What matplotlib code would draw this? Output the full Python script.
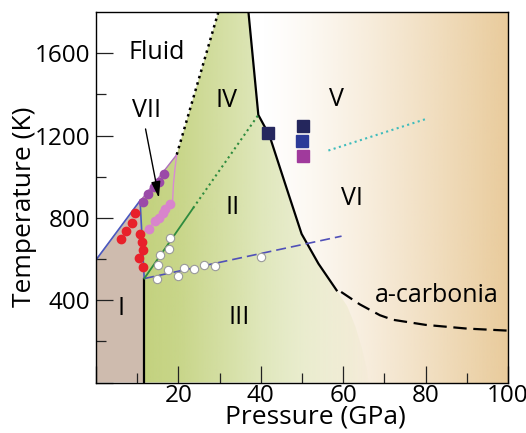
import numpy as np
import matplotlib.pyplot as plt
from matplotlib.patches import Polygon

plt.rcParams['font.family'] = ['Open Sans', 'DejaVu Sans']

# phase boundaries, pressure in GPa, temperature in K
melt_p = [0.2, 10.7]
melt_t = [601, 884]
i_ii_p = [10.7, 11.7]
i_ii_t = [884, 505]
i_iii_p = [11.7, 11.7]
i_iii_t = [0, 505]
vii_top_p = [10.7, 19.6]
vii_top_t = [880, 1107]
vii_low_p = [10.8, 12.9, 14.2, 15.2, 16.2, 16.8, 18.2, 18.6, 18.8, 19.2, 19.6]
vii_low_t = [725, 748, 785, 800, 822, 845, 868, 884, 965, 1045, 1107]
fluid_p = [19.6, 29.7]
fluid_t = [1107, 1800]
v_p = [37.0, 38.2, 39.4, 42.1, 46.0, 49.9, 54.0, 58.4]
v_t = [1800, 1550, 1300, 1200, 960, 722, 577, 448]
acarb_p = [59.5, 64, 68.9, 72, 80, 90, 100]
acarb_t = [440, 380, 327, 305, 280, 262, 252]
ii_iii_p = [11.7, 59.6]
ii_iii_t = [505, 711]
ii_solid_p = [11.7, 23.6]
ii_solid_t = [505, 848]
ii_dot_p = [23.6, 39.4]
ii_dot_t = [848, 1300]
cyan_p = [56.4, 79.9]
cyan_t = [1127, 1279]
green_edge_p = [58.4, 61, 63, 64.5, 65.8, 66.2]
green_edge_t = [448, 370, 270, 170, 60, 0]

# measured points
red_p = [6.0, 7.3, 8.8, 9.5, 10.7, 11.1, 11.5, 10.5, 11.3]
red_t = [695, 735, 774, 822, 722, 682, 642, 604, 561]
purple_p = [11.3, 12.7, 14.0, 15.2, 16.6]
purple_t = [876, 916, 948, 972, 1012]
pink_p = [12.9, 14.2, 15.2, 16.2, 16.8, 18.0]
pink_t = [745, 785, 800, 822, 845, 866]
white_p = [15.0, 15.5, 17.7, 18.0, 14.7, 17.4, 19.8, 21.4, 23.9, 26.2, 29.0, 40.0]
white_t = [572, 621, 650, 703, 505, 545, 517, 556, 551, 572, 566, 609]
sq_p = [41.8, 50.2, 50.0, 50.2]
sq_t = [1212, 1244, 1174, 1098]
sq_c = ['#26285f', '#24265c', '#2c3a98', '#a03a9c']

phase_names = ['Fluid', 'IV', 'VII', 'V', 'II', 'VI', 'I', 'III', 'a-carbonia']
phase_p = [14.7, 31.7, 12.3, 58.4, 33.1, 62.1, 6.1, 34.8, 82.7]
phase_t = [1602, 1368, 1320, 1376, 848, 892, 359, 316, 424]

fig = plt.figure(figsize=(5.26, 4.33), dpi=100)
ax = fig.add_axes([0.1825, 0.1166, 0.7833, 0.8557])
ax.set_xlim(0, 100)
ax.set_ylim(0, 1800)

# background: white -> tan towards high pressure
pp = np.linspace(0, 100, 400)
tan = np.zeros((1, len(pp), 4))
tan[..., 0] = 233 / 255
tan[..., 1] = 203 / 255
tan[..., 2] = 155 / 255
tan[..., 3] = np.clip((pp - 40) / 60, 0, 1) ** 1.25
ax.imshow(tan, extent=[0, 100, 0, 1800], aspect='auto', zorder=0)

# green region (II, III, IV, VII)
gp = vii_top_p[::-1][:1] + fluid_p[1:] + v_p + green_edge_p[1:]
gt = vii_top_t[::-1][:1] + fluid_t[1:] + v_t + green_edge_t[1:]
gverts = [(11.7, 0), (11.7, 505), (10.7, 884)] + list(zip(gp, gt))
green = np.zeros((1, len(pp), 4))
green[..., 0] = 194 / 255
green[..., 1] = 209 / 255
green[..., 2] = 124 / 255
green[..., 3] = np.interp(pp, [10, 20, 35, 50, 62, 67], [1, 0.9, 0.62, 0.32, 0.12, 0.0])
im = ax.imshow(green, extent=[0, 100, 0, 1800], aspect='auto', zorder=1)
clip = Polygon(gverts, closed=True, transform=ax.transData, fc='none', ec='none')
im.set_clip_path(clip)

# phase I
ax.add_patch(Polygon([(0, 0), (11.7, 0), (11.7, 505), (10.7, 884), (0, 601)],
                     closed=True, fc='#cebbae', ec='none', zorder=1))

# boundaries
ax.plot(melt_p, melt_t, color='#4a58c0', lw=1.2, zorder=3)
ax.plot(i_ii_p, i_ii_t, color='#4a58c0', lw=1.2, zorder=3)
ax.plot(i_iii_p, i_iii_t, color='black', lw=1.6, zorder=3)
ax.plot(vii_top_p, vii_top_t, color='#b070c0', lw=1.0, zorder=3)
ax.plot(vii_low_p, vii_low_t, color='#d88ad4', lw=1.0, zorder=3)
ax.plot(fluid_p, fluid_t, color='black', lw=1.8, ls=':', zorder=3)
ax.plot(v_p, v_t, color='black', lw=1.6, zorder=3)
ax.plot(acarb_p, acarb_t, color='black', lw=1.6, dashes=(6, 3), zorder=3)
ax.plot(ii_iii_p, ii_iii_t, color='#5050b8', lw=1.2, dashes=(6, 3), zorder=3)
ax.plot(ii_solid_p, ii_solid_t, color='#2e8b3e', lw=1.3, zorder=3)
ax.plot(ii_dot_p, ii_dot_t, color='#2e8b3e', lw=1.5, ls=':', zorder=3)
ax.plot(cyan_p, cyan_t, color='#3fbcbc', lw=1.5, ls=':', zorder=3)

# data points
ax.plot(red_p, red_t, 'o', color='#e8202a', ms=6, mec='#e8202a', zorder=4)
ax.plot(purple_p, purple_t, 'o', color='#9b4aa8', ms=6, mec='#9b4aa8', zorder=4)
ax.plot(pink_p, pink_t, 'o', color='#d884cc', ms=6, mec='#d884cc', zorder=4)
ax.plot(white_p, white_t, 'o', color='white', ms=6, mec='#9a9a9a', mew=0.8, zorder=4)
for p, t, c in zip(sq_p, sq_t, sq_c):
    ax.plot(p, t, 's', color=c, ms=8.5, zorder=4)

for name, p, t in zip(phase_names, phase_p, phase_t):
    ax.text(p, t, name, fontsize=18, ha='center', va='center', zorder=5)

ax.annotate('', xy=(15.4, 884), xytext=(11.9, 1245),
            arrowprops=dict(arrowstyle='-|>,head_length=0.7,head_width=0.2',
                            color='black', lw=1.0, mutation_scale=14), zorder=5)

ax.set_xticks([0, 20, 40, 60, 80, 100])
ax.set_xticklabels(['', '20', '40', '60', '80', '100'])
ax.set_yticks([0, 400, 800, 1200, 1600])
ax.set_yticklabels(['', '400', '800', '1200', '1600'])
ax.set_xticks([10, 30, 50, 70, 90], minor=True)
ax.set_yticks([200, 600, 1000, 1400], minor=True)
ax.tick_params(which='both', direction='in', width=0.9, labelsize=17.5, color='#222222')
ax.tick_params(which='major', length=12)
ax.tick_params(which='minor', length=7)
ax.tick_params(axis='x', pad=1)
ax.tick_params(axis='y', pad=4)
for s in ax.spines.values():
    s.set_linewidth(1.0)
    s.set_zorder(6)

ax.set_xlabel('Pressure (GPa)', fontsize=19)
ax.set_ylabel('Temperature (K)', fontsize=19)
ax.xaxis.set_label_coords(0.532, -0.06)
ax.yaxis.set_label_coords(-0.142, 0.474)

fig.savefig('out.png', dpi=100)
